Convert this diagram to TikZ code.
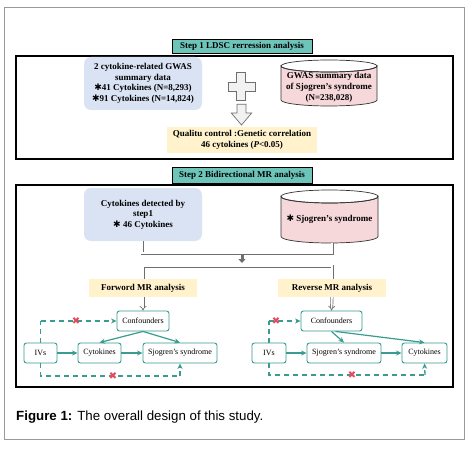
\documentclass[tikz,border=0pt]{standalone}
\usepackage{fontspec}
\setmainfont{Liberation Serif}
\newfontfamily\capfont{Liberation Sans}
\newfontfamily\symfont{DejaVu Sans}
\usetikzlibrary{arrows.meta}
\definecolor{tealT}{HTML}{6DC5BA}
\definecolor{blueB}{HTML}{DAE3F3}
\definecolor{pinkC}{HTML}{F6D7DA}
\definecolor{yelB}{HTML}{FFF2CC}
\definecolor{tealL}{HTML}{3A9B90}
\definecolor{redX}{HTML}{E8485C}
\definecolor{grayD}{HTML}{6F6F6F}
\newcommand{\stx}{{\symfont\char"2731}}
\begin{document}
\begin{tikzpicture}[x=1pt,y=-1pt,
  frame/.style={draw=black, line width=1.4pt, inner sep=0pt},
  titlebox/.style={draw=black, fill=tealT, line width=0.6pt, inner sep=0pt, font=\fontsize{9}{10}\selectfont\bfseries},
  bluebox/.style={fill=blueB, rounded corners=7pt, inner sep=0pt, align=center, font=\fontsize{9}{10.5}\selectfont\bfseries},
  yelbox/.style={fill=yelB, inner sep=0pt, align=center, font=\fontsize{9}{11}\selectfont\bfseries},
  cyltext/.style={inner sep=0pt, align=center, font=\fontsize{9}{11}\selectfont\bfseries},
  mrbox/.style={draw=tealL, fill=white, line width=0.9pt, rounded corners=2.5pt, inner sep=0pt, font=\fontsize{8}{9}\selectfont},
  mrarrow/.style={draw=tealL, line width=1.2pt, -{Stealth[length=5.5pt,width=5pt]}},
  mrdash/.style={draw=tealL, line width=1.3pt, dash pattern=on 5pt off 4pt},
  redx/.style={inner sep=0pt, text=redX, font=\symfont\fontsize{10}{10}\selectfont},
  dline/.style={draw=grayD, double=white, double distance=1.6pt, line width=0.7pt},
  hollow/.style={draw=grayD, fill=white!95!black, line width=0.7pt},
]
\useasboundingbox (0,0) rectangle (473,449);
\fill[white] (0,0) rectangle (473,449);
\draw[black!40, line width=1pt] (4,8) rectangle (464,439);

% ---------- Step 1 ----------
\node[frame, minimum width=437pt, minimum height=103pt] (f1) at (234.5,107.5) {};
\node[titlebox, minimum width=140pt, minimum height=14pt] (t1) at (242,46) {Step 1 LDSC rerression analysis};
\node[bluebox, minimum width=118pt, minimum height=53pt] (b1) at (143,83.5)
  {2 cytokine-related GWAS\\summary data\\\stx41 Cytokines (N=8,293)\\\stx91 Cytokines (N=14,824)};
% cylinder 1
\filldraw[fill=pinkC, draw=black!80, line width=0.7pt]
  (281,66) -- (281,100) arc[start angle=180, end angle=0, x radius=48, y radius=6] -- (377,66)
  arc[start angle=0, end angle=180, x radius=48, y radius=6] -- cycle;
\draw[black!80, line width=0.7pt] (329,66) ellipse[x radius=48, y radius=6];
\node[cyltext] (c1) at (329,87) {GWAS summary data\\of Sjogren's syndrome\\(N=238,028)};
% plus
\filldraw[hollow] (236.7,72.7) -- (245.7,72.7) -- (245.7,82.3) -- (255,82.3) -- (255,91.7) -- (245.7,91.7)
  -- (245.7,100) -- (236.7,100) -- (236.7,91.7) -- (228,91.7) -- (228,82.3) -- (236.7,82.3) -- cycle;
% down block arrow
\filldraw[hollow] (237,104.3) -- (246,104.3) -- (246,113) -- (251.7,113) -- (241.5,125) -- (231.3,113) -- (237,113) -- cycle;
\node[yelbox, minimum width=150pt, minimum height=26pt] (q1) at (242,140)
  {Qualitu control :Genetic correlation\\46 cytokines (\textit{P}<0.05)};

% ---------- Step 2 ----------
\node[titlebox, minimum width=140pt, minimum height=16pt] (t2) at (242,175) {Step 2 Bidirectional MR analysis};
\node[frame, minimum width=437pt, minimum height=202pt] (f2) at (234.5,286) {};
\node[bluebox, minimum width=118pt, minimum height=53pt] (b2) at (143,214.5)
  {Cytokines detected by\\step1\\\stx\ 46 Cytokines};
% cylinder 2
\filldraw[fill=pinkC, draw=black!80, line width=0.7pt]
  (281,196.5) -- (281,236.5) arc[start angle=180, end angle=0, x radius=48.5, y radius=6.5] -- (378,196.5)
  arc[start angle=0, end angle=180, x radius=48.5, y radius=6.5] -- cycle;
\draw[black!80, line width=0.7pt] (329.5,196.5) ellipse[x radius=48.5, y radius=6.5];
\node[cyltext] (c2) at (329.5,219) {\stx\ Sjogren's syndrome};
\coordinate (c2b) at (332,242.5);
\coordinate (m1) at (242,253);
\coordinate (m2) at (242,266);

\node[yelbox, minimum width=108pt, minimum height=18pt] (fw) at (143,288) {Forword MR analysis};
\node[yelbox, minimum width=108pt, minimum height=18pt] (rv) at (332,288) {Reverse MR analysis};

\draw[dline] (b2.south -| 142,0) |- (m1) -| (c2b);
\draw[dline] (fw.north) |- (m2) -| (rv.north);
\draw[grayD, line width=3pt, -{Triangle[length=4pt,width=7pt]}] (242,254.5) -- (242,263);

% forward diagram
\node[mrbox, minimum width=52pt, minimum height=20pt] (cf1) at (143,321) {Confounders};
\node[mrbox, minimum width=33pt, minimum height=20pt] (iv1) at (40.5,353) {IVs};
\node[mrbox, minimum width=43pt, minimum height=20pt] (ck1) at (99.5,353) {Cytokines};
\node[mrbox, minimum width=74pt, minimum height=20pt] (sj1) at (180,353) {Sjogren's syndrome};
\draw[dline, -{Implies[length=3pt]}] (fw.south) -- (cf1.north);
\draw[mrarrow] (iv1) -- (ck1);
\draw[mrarrow] (ck1) -- (sj1);
\draw[mrarrow] (cf1.south) -- (ck1.north);
\draw[mrarrow] (cf1.south) -- (sj1.north);
\coordinate (tl1) at (40.5,321);
\coordinate (bl1) at (40.5,376);
\coordinate (br1) at (180,376);
\draw[mrdash] (iv1.north) -- (tl1);
\draw[mrdash, -{Stealth[length=5.5pt,width=5pt]}] (tl1) -- (cf1.west);
\draw[mrdash] (iv1.south) -- (bl1) -- (br1);
\draw[mrdash, -{Stealth[length=5.5pt,width=5pt]}] (br1) -- (sj1.south);
\node[redx] (x1) at (76,321) {✖};
\node[redx] (x2) at (113,376) {✖};

% reverse diagram
\node[mrbox, minimum width=61pt, minimum height=20pt] (cf2) at (331.5,321) {Confounders};
\node[mrbox, minimum width=34pt, minimum height=20pt] (iv2) at (269,353) {IVs};
\node[mrbox, minimum width=74pt, minimum height=20pt] (sj2) at (344,353) {Sjogren's syndrome};
\node[mrbox, minimum width=45pt, minimum height=20pt] (ck2) at (424.5,353) {Cytokines};
\draw[dline, -{Implies[length=3pt]}] (rv.south) -- (cf2.north);
\draw[mrarrow] (iv2) -- (sj2);
\draw[mrarrow] (sj2) -- (ck2);
\draw[mrarrow] (cf2.south) -- (sj2.north);
\draw[mrarrow] (cf2.south east) ++(-27pt,0) coordinate (cfo) (cfo) -- (ck2.north);
\coordinate (tl2) at (269,321);
\coordinate (bl2) at (269,375);
\coordinate (br2) at (425,375);
\draw[mrdash] (iv2.north) -- (tl2);
\draw[mrdash, -{Stealth[length=5.5pt,width=5pt]}] (tl2) -- (cf2.west);
\draw[mrdash] (iv2.south) -- (bl2) -- (br2);
\draw[mrdash, -{Stealth[length=5.5pt,width=5pt]}] (br2) -- (ck2.south);
\node[redx] (x3) at (276,321) {✖};
\node[redx] (x4) at (352,375) {✖};

% caption
\node[anchor=west, inner sep=0pt, font=\capfont\fontsize{13.3}{15}\selectfont] (cap) at (16,417)
  {\textbf{Figure 1:} The overall design of this study.};
\end{tikzpicture}
\end{document}
